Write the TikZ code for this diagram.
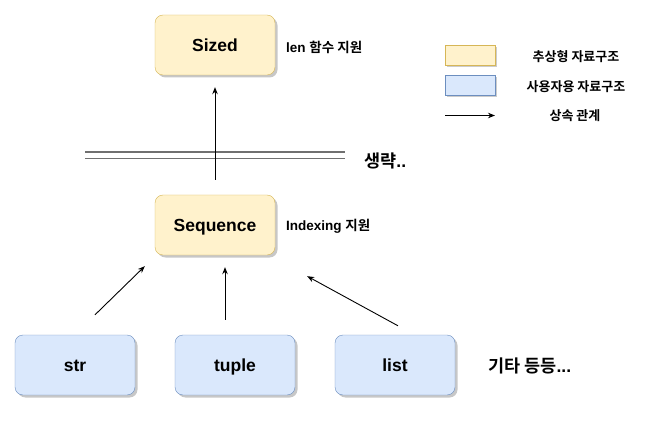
\documentclass[tikz,border=0pt]{standalone}
\usepackage{fontspec}
\setmainfont{Liberation Sans}
\newfontfamily\kr{Noto Sans CJK KR}[BoldFont={Noto Sans CJK KR Bold}]
\usetikzlibrary{shadows,arrows.meta,calc}
\definecolor{yfill}{HTML}{FFF2CC}
\definecolor{ydraw}{HTML}{D6B656}
\definecolor{bfill}{HTML}{DAE8FC}
\definecolor{bdraw}{HTML}{6C8EBF}
\definecolor{cutgray}{HTML}{707070}
\begin{document}
\begin{tikzpicture}[x=1pt,y=-1pt,
  box/.style={rounded corners=8pt, minimum width=120pt, minimum height=60pt, inner sep=0pt,
    text height=12.6pt, text depth=0pt,
    font=\fontsize{17.5}{20}\selectfont\bfseries,
    drop shadow={shadow xshift=2.5pt, shadow yshift=-2.5pt, opacity=0.22, fill=black}},
  abstract/.style={box, fill=yfill, draw=ydraw},
  concrete/.style={box, fill=bfill, draw=bdraw},
  legbox/.style={minimum width=50pt, minimum height=20pt, inner sep=0pt,
    drop shadow={shadow xshift=2pt, shadow yshift=-2pt, opacity=0.2, fill=black}},
  note/.style={font=\fontsize{13.5}{16}\selectfont\bfseries, inner sep=0pt, anchor=west},
  bignote/.style={font=\fontsize{17.5}{20}\selectfont\bfseries, inner sep=0pt, anchor=west},
  legtext/.style={font=\fontsize{13}{16}\selectfont\bfseries, inner sep=0pt},
  inh/.style={draw=black, line width=0.9pt, -{Stealth[length=7pt,width=5.5pt]}},
  cut/.style={draw=cutgray, line width=1.3pt}
]
\useasboundingbox (0,0) rectangle (672,422);

% boxes
\node[abstract] (sized) at (215,45) {Sized};
\node[abstract] (seq) at (215,225) {Sequence};
\node[concrete] (str) at (75,365) {str};
\node[concrete] (tuple) at (235,365) {tuple};
\node[concrete] (list) at (395,365) {list};

% notes
\node[note] (lennote) at (286,47) {len {\kr\bfseries 함수 지원}};
\node[note] (idxnote) at (286,226) {Indexing {\kr\bfseries 지원}};
\node[bignote] (omit) at (364,161) {{\kr\bfseries 생략}..};
\node[bignote] (etc) at (488,366) {{\kr\bfseries 기타 등등}...};

% omission double line
\coordinate (cutL1) at (85,152);
\coordinate (cutR1) at (345,152);
\coordinate (cutL2) at (85,158.5);
\coordinate (cutR2) at (345,158.5);
\draw[cut] (cutL1) -- (cutR1);
\draw[cut] (cutL2) -- (cutR2);

% inheritance arrows
\draw[inh] ([yshift=15pt]seq.north) -- ([yshift=-12pt]sized.south);
\draw[inh] ([xshift=20pt,yshift=20pt]str.north) -- ([xshift=-10pt,yshift=-11pt]seq.south west);
\draw[inh] ([xshift=-10pt,yshift=15pt]tuple.north) -- ([xshift=10pt,yshift=-12pt]seq.south);
\draw[inh] ([xshift=3pt,yshift=9pt]list.north) -- ([xshift=32pt,yshift=-21pt]seq.south east);

% legend
\node[legbox, fill=yfill, draw=ydraw] (legA) at (470,55) {};
\node[legbox, fill=bfill, draw=bdraw] (legB) at (470,85.5) {};
\coordinate (legC1) at (445,115.5);
\coordinate (legC2) at (495,115.5);
\draw[inh] (legC1) -- (legC2);
\node[legtext] (legAt) at (576,57) {\kr\bfseries 추상형 자료구조};
\node[legtext] (legBt) at (576,87) {\kr\bfseries 사용자용 자료구조};
\node[legtext] (legCt) at (575,116) {\kr\bfseries 상속 관계};
\end{tikzpicture}
\end{document}
